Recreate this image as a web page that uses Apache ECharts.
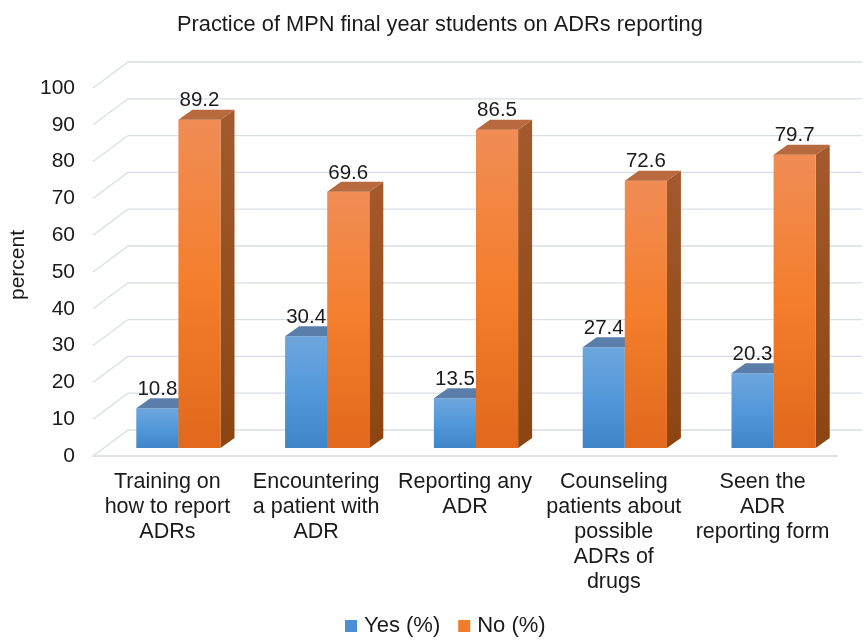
<!DOCTYPE html>
<html>
<head>
<meta charset="utf-8">
<script src="https://cdn.jsdelivr.net/npm/echarts@6/dist/echarts.min.js"></script>
<style>
  html, body { margin: 0; padding: 0; background: #fff; }
  #main { width: 864px; height: 643px; }
</style>
</head>
<body>
<div id="main"></div>
<script>
var categories = [
  'Training on\nhow to report\nADRs',
  'Encountering\na patient with\nADR',
  'Reporting any\nADR',
  'Counseling\npatients about\npossible\nADRs of\ndrugs',
  'Seen the\nADR\nreporting form'
];
var yesValues = [10.8, 30.4, 13.5, 27.4, 20.3];
var noValues = [89.2, 69.6, 86.5, 72.6, 79.7];
var yTicks = [0, 10, 20, 30, 40, 50, 60, 70, 80, 90, 100];

var FONT = '"Liberation Sans", Arial, sans-serif';
var DX = 14, DY = -10;          // bar depth
var BACK = [24, -18];           // bar plane -> back wall
var FRONT = [-11, 8];           // bar plane -> front edge

var myChart = echarts.init(document.getElementById('main'));

function grad(c0, c1, c2) {
  return new echarts.graphic.LinearGradient(0, 0, 0, 1, [
    {offset: 0, color: c0}, {offset: 0.5, color: c1}, {offset: 1, color: c2}
  ]);
}

function boxRender(isYes) {
  return function (params, api) {
    var idx = api.value(0), val = api.value(1);
    var top = api.coord([idx, val]);
    var base = api.coord([idx, 0]);
    var cw = api.size([1, 0])[0];
    var bw = cw * 0.283;
    var x0 = isYes ? top[0] - bw : top[0];
    var x1 = x0 + bw;
    var yt = top[1], yb = base[1];
    var front = isYes ? grad('#6ea6dd', '#5398da', '#3f85c9') : grad('#f08d55', '#f47e2c', '#e1681c');
    var side = isYes ? '#3d6e9e' : new echarts.graphic.LinearGradient(0, 0, 0, 1, [
      {offset: 0, color: '#a45a2c'}, {offset: 1, color: '#8c4511'}]);
    var topc = isYes ? '#5a7ea9' : '#b86a3e';
    return {
      type: 'group',
      children: [
        {type: 'polygon', shape: {points: [[x1, yt], [x1 + DX, yt + DY], [x1 + DX, yb + DY], [x1, yb]]},
          style: {fill: side}},
        {type: 'polygon', shape: {points: [[x0, yt], [x1, yt], [x1, yb], [x0, yb]]},
          style: {fill: front}},
        {type: 'polygon', shape: {points: [[x0, yt], [x1, yt], [x1 + DX, yt + DY], [x0 + DX, yt + DY]]},
          style: {fill: topc}},
        {type: 'text', style: {text: String(val), x: (x0 + x1) / 2, y: yt - 19,
          align: 'center', verticalAlign: 'middle', fill: '#1a1a1a', font: '20.5px ' + FONT}}
      ]
    };
  };
}

var option = {
  backgroundColor: '#fff',
  animation: false,
  title: {
    text: 'Practice of MPN final year students on ADRs reporting',
    left: 172, top: 9,
    textStyle: {fontFamily: FONT, fontSize: 21.8, fontWeight: 'normal', color: '#1a1a1a'}
  },
  legend: {
    bottom: 1, left: 340,
    icon: 'rect', itemWidth: 12, itemHeight: 12, itemGap: 18,
    textStyle: {fontFamily: FONT, fontSize: 22, color: '#1a1a1a', padding: [0, 0, 0, 2]},
    data: ['Yes (%)', 'No (%)']
  },
  grid: [
    {left: 93, right: 27, top: 88, bottom: 187},
    {left: 104, right: 16, top: 80, bottom: 195}
  ],
  xAxis: [
    {type: 'category', gridIndex: 0, data: categories,
      axisLine: {lineStyle: {color: '#d9d9d9', width: 1.5}}, axisTick: {show: false},
      axisLabel: {interval: 0, margin: 14, fontFamily: FONT, fontSize: 21.5, lineHeight: 25, color: '#1a1a1a'}},
    {type: 'category', gridIndex: 1, data: categories, show: false}
  ],
  yAxis: [
    {type: 'value', gridIndex: 0, min: 0, max: 100, interval: 10,
      name: 'percent', nameLocation: 'middle', nameGap: 60,
      nameTextStyle: {fontFamily: FONT, fontSize: 21, color: '#1a1a1a', padding: [0, 0, 0, 14]},
      axisLine: {show: false}, axisTick: {show: false}, splitLine: {show: false},
      axisLabel: {margin: 18, fontFamily: FONT, fontSize: 21, color: '#1a1a1a'}},
    {type: 'value', gridIndex: 1, min: 0, max: 100, interval: 10, show: false}
  ],
  series: [
    {
      type: 'custom', name: 'grid', xAxisIndex: 1, yAxisIndex: 1, silent: true, z: 1,
      data: yTicks.map(function (v) { return [0, v]; }),
      renderItem: function (params, api) {
        var p = api.coord([0, api.value(1)]);
        var L = p[0] - api.size([1, 0])[0] / 2;
        var y = p[1];
        return {type: 'polyline', shape: {points: [
          [L + FRONT[0], y + FRONT[1]], [L + BACK[0], y + BACK[1]], [862, y + BACK[1]]]},
          style: {stroke: '#d8dee8', lineWidth: 1.3, fill: null}};
      }
    },
    {
      type: 'custom', name: 'Yes (%)', xAxisIndex: 1, yAxisIndex: 1, z: 2,
      itemStyle: {color: '#4e8fd3'},
      data: yesValues.map(function (v, i) { return [i, v]; }),
      renderItem: boxRender(true)
    },
    {
      type: 'custom', name: 'No (%)', xAxisIndex: 1, yAxisIndex: 1, z: 3,
      itemStyle: {color: '#f07c2c'},
      data: noValues.map(function (v, i) { return [i, v]; }),
      renderItem: boxRender(false)
    }
  ]
};
myChart.setOption(option);
</script>
</body>
</html>
